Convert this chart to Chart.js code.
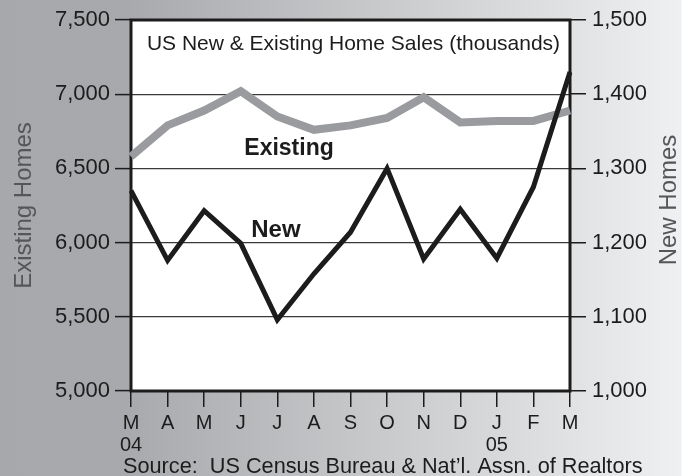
<!DOCTYPE html>
<html>
<head>
<meta charset="utf-8">
<script src="https://cdn.jsdelivr.net/npm/chart.js@4.4.1/dist/chart.umd.min.js"></script>
<style>
	html, body {
		margin: 0;
		padding: 0;
	}
	body {
		width: 689px;
		height: 476px;
		background: linear-gradient(to right, #a7a8ab 0px, #a8a9ac 125px, #eff0f1 681px, #ffffff 682px);
		overflow: hidden;
	}
	#wrap {
		position: relative;
		width: 689px;
		height: 476px;
	}
	canvas {
		display: block;
	}
</style>
</head>
<body>
<div id="wrap"><canvas id="chart" width="689" height="476"></canvas></div>
<script>
"use strict";

const months = [["M", "04"], "A", "M", "J", "J", "A", "S", "O", "N", "D", ["J", "05"], "F", "M"];
// thousands
const existingSales = [6580, 6790, 6890, 7020, 6850, 6760, 6790, 6840, 6980, 6810, 6820, 6820, 6890];
const newSales = [1270, 1176, 1243, 1199, 1096, 1158, 1214, 1300, 1178, 1245, 1179, 1275, 1430];
const existingTicks = [5000, 5500, 6000, 6500, 7000, 7500];
const newTicks = [1000, 1100, 1200, 1300, 1400, 1500];

const FONT = "'Liberation Sans', Arial, Helvetica, sans-serif";
const INK = "#1c1c1c";

function fmt(v) {
	return Number(v).toLocaleString("en-US");
}

// white plot, frame, titles and in-plot labels
const decorations = {
	id: "decorations",
	beforeDraw(chart) {
		const { ctx, chartArea: a } = chart;
		ctx.save();
		ctx.fillStyle = "#ffffff";
		ctx.fillRect(a.left, a.top, a.right - a.left, a.bottom - a.top);
		ctx.restore();
	},
	beforeDatasetsDraw(chart) {
		const { ctx, chartArea: a } = chart;
		ctx.save();
		ctx.strokeStyle = INK;
		ctx.lineWidth = 3;
		ctx.strokeRect(a.left, a.top, a.right - a.left, a.bottom - a.top);
		ctx.restore();
	},
	afterDraw(chart) {
		const { ctx, chartArea: a, scales } = chart;
		ctx.save();
		ctx.fillStyle = INK;
		ctx.textBaseline = "alphabetic";

		ctx.font = `21px ${FONT}`;
		ctx.textAlign = "center";
		ctx.fillText("US New & Existing Home Sales (thousands)", (a.left + a.right) / 2 + 3, a.top + 30);

		ctx.font = `bold 23px ${FONT}`;
		ctx.fillText("Existing", scales.x.getPixelForDecimal(4.32 / 12), scales.y.getPixelForValue(6590));
		ctx.font = `bold 24px ${FONT}`;
		ctx.fillText("New", scales.x.getPixelForDecimal(3.96 / 12), scales.y1.getPixelForValue(1208));

		ctx.font = `21.7px ${FONT}`;
		ctx.textAlign = "left";
		ctx.fillText("Source:  US Census Bureau & Nat\u2019l. Assn. of Realtors", 123, 473);

		ctx.fillStyle = "#555659";
		ctx.font = `24px ${FONT}`;
		ctx.textAlign = "center";
		ctx.translate(31, (a.top + a.bottom) / 2);
		ctx.rotate(-Math.PI / 2);
		ctx.fillText("Existing Homes", 0, 0);
		ctx.setTransform(1, 0, 0, 1, 0, 0);
		ctx.translate(676, 200);
		ctx.rotate(-Math.PI / 2);
		ctx.fillText("New Homes", 0, 0);
		ctx.restore();
	},
};

const chart = new Chart(
	document.getElementById("chart"),
	{
		type: "line",
		data: {
			labels: months,
			datasets: [
				{
					label: "New",
					data: newSales,
					yAxisID: "y1",
					borderColor: "#1c1c1c",
					borderWidth: 5,
					borderJoinStyle: "miter",
					pointRadius: 0,
					tension: 0,
					order: 0,
				},
				{
					label: "Existing",
					data: existingSales,
					yAxisID: "y",
					borderColor: "#9a9b9e",
					borderWidth: 8,
					borderJoinStyle: "miter",
					pointRadius: 0,
					tension: 0,
					order: 1,
				},
			],
		},
		options: {
			responsive: false,
			animation: false,
			devicePixelRatio: 1,
			layout: {
				padding: { top: 20, left: 0, right: 0, bottom: 0 },
			},
			plugins: {
				legend: { display: false },
				tooltip: { enabled: false },
				title: { display: false },
			},
			scales: {
				x: {
					offset: false,
					border: { display: false },
					grid: {
						drawOnChartArea: false,
						drawTicks: true,
						tickLength: 16,
						color: INK,
						lineWidth: 1.5,
					},
					ticks: {
						autoSkip: false,
						maxRotation: 0,
						color: INK,
						padding: 5,
						font: { family: FONT, size: 20, lineHeight: 1.1 },
					},
					afterFit(scale) {
						scale.height = 85;
					},
				},
				y: {
					position: "left",
					min: existingTicks[0],
					max: existingTicks[existingTicks.length - 1],
					border: { display: false },
					grid: {
						color: "#3a3a3a",
						lineWidth: 1.2,
						tickLength: 16,
						tickColor: INK,
						tickWidth: 1.5,
					},
					afterBuildTicks(scale) {
						scale.ticks = existingTicks.map(v => ({ value: v }));
					},
					ticks: {
						color: INK,
						padding: 5,
						font: { family: FONT, size: 22 },
						callback: v => fmt(v),
					},
					afterFit(scale) {
						scale.width = 131;
					},
				},
				y1: {
					position: "right",
					min: newTicks[0],
					max: newTicks[newTicks.length - 1],
					border: { display: false },
					grid: {
						drawOnChartArea: false,
						tickLength: 16,
						color: INK,
						lineWidth: 1.5,
					},
					afterBuildTicks(scale) {
						scale.ticks = newTicks.map(v => ({ value: v }));
					},
					ticks: {
						color: INK,
						padding: 6,
						font: { family: FONT, size: 22 },
						callback: v => fmt(v),
					},
					afterFit(scale) {
						scale.width = 119;
					},
				},
			},
		},
		plugins: [decorations],
	}
);
</script>
</body>
</html>
